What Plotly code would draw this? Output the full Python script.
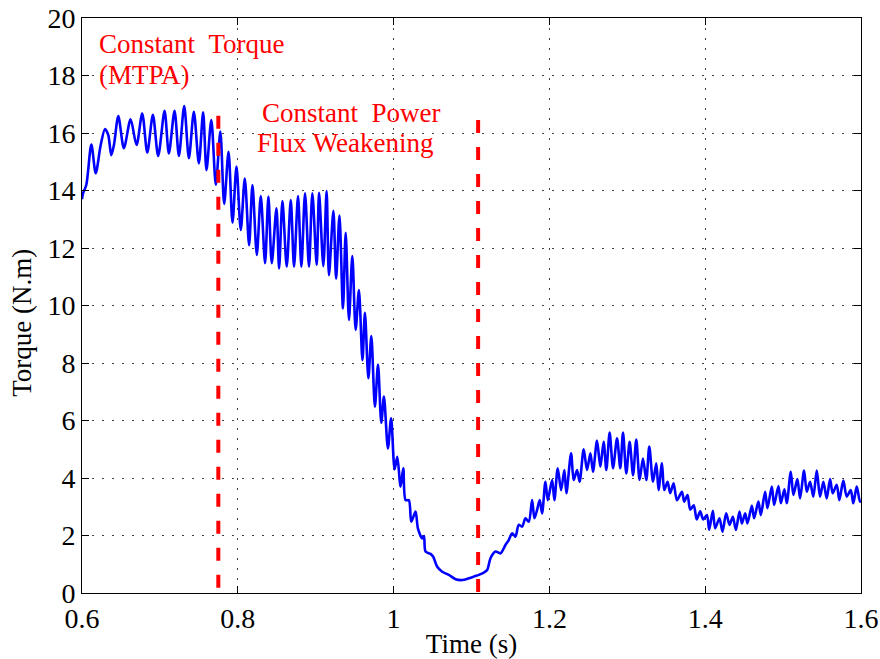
import plotly.graph_objects as go

# Time (s) and torque (N.m) (peaks / troughs)
time_s = [
    0.6000, 0.6013, 0.6055, 0.6120, 0.6176, 0.6240, 0.6295, 0.6337, 0.6376, 0.6410,
    0.6466, 0.6538, 0.6624, 0.6700, 0.6773, 0.6838, 0.6910, 0.6978, 0.7060, 0.7115,
    0.7188, 0.7244, 0.7312, 0.7372, 0.7436, 0.7500, 0.7555, 0.7598, 0.7660, 0.7718,
    0.7776, 0.7825, 0.7881, 0.7932, 0.7983, 0.8038, 0.8090, 0.8145, 0.8188, 0.8244,
    0.8295, 0.8350, 0.8393, 0.8436, 0.8496, 0.8530, 0.8573, 0.8628, 0.8680, 0.8722,
    0.8773, 0.8816, 0.8863, 0.8914, 0.8957, 0.9013, 0.9043, 0.9098, 0.9140, 0.9170,
    0.9227, 0.9262, 0.9305, 0.9350, 0.9385, 0.9427, 0.9470, 0.9513, 0.9555, 0.9600,
    0.9632, 0.9676, 0.9714, 0.9760, 0.9800, 0.9842, 0.9876, 0.9927, 0.9968, 1.0013,
    1.0047, 1.0090, 1.0124, 1.0154, 1.0196, 1.0227, 1.0282, 1.0312, 1.0368, 1.0390,
    1.0410, 1.0474, 1.0509, 1.0560, 1.0624, 1.0709, 1.0795, 1.0881, 1.0965, 1.1029,
    1.1094, 1.1158, 1.1201, 1.1244, 1.1308, 1.1372, 1.1436, 1.1478, 1.1522, 1.1564,
    1.1606, 1.1650, 1.1692, 1.1735, 1.1778, 1.1808, 1.1842, 1.1876, 1.1906, 1.1949,
    1.1979, 1.2035, 1.2064, 1.2107, 1.2150, 1.2192, 1.2218, 1.2278, 1.2312, 1.2355,
    1.2388, 1.2440, 1.2483, 1.2526, 1.2560, 1.2611, 1.2654, 1.2696, 1.2731, 1.2773,
    1.2817, 1.2868, 1.2910, 1.2945, 1.2987, 1.3030, 1.3074, 1.3115, 1.3158, 1.3201,
    1.3244, 1.3282, 1.3330, 1.3372, 1.3401, 1.3445, 1.3474, 1.3517, 1.3551, 1.3594,
    1.3637, 1.3701, 1.3731, 1.3773, 1.3808, 1.3853, 1.3891, 1.3936, 1.3974, 1.4022,
    1.4051, 1.4098, 1.4128, 1.4183, 1.4222, 1.4269, 1.4312, 1.4355, 1.4394, 1.4440,
    1.4471, 1.4513, 1.4542, 1.4599, 1.4628, 1.4683, 1.4714, 1.4769, 1.4799, 1.4855,
    1.4885, 1.4940, 1.4971, 1.5017, 1.5047, 1.5099, 1.5132, 1.5183, 1.5218, 1.5269,
    1.5304, 1.5346, 1.5388, 1.5432, 1.5474, 1.5517, 1.5560, 1.5603, 1.5637, 1.5688,
    1.5722, 1.5773, 1.5817, 1.5868, 1.5901, 1.5945, 1.5987, 1.6000,
]
torque_nm = [
    13.70, 13.90, 14.19, 15.60, 14.60, 15.58, 16.14, 15.93, 15.23, 15.58,
    16.59, 15.47, 16.48, 15.58, 16.68, 15.32, 16.63, 15.20, 16.77, 15.29,
    16.77, 15.20, 16.94, 15.12, 16.74, 14.94, 16.72, 14.71, 16.45, 14.20,
    16.05, 13.53, 15.35, 12.88, 14.83, 12.63, 14.42, 12.10, 14.19, 11.76,
    13.81, 11.47, 13.79, 11.47, 13.38, 11.29, 13.63, 11.35, 13.67, 11.35,
    13.81, 11.35, 13.90, 11.35, 13.90, 11.41, 13.92, 11.37, 13.98, 11.06,
    13.29, 10.93, 13.13, 9.90, 12.53, 9.50, 11.72, 9.15, 10.54, 8.10,
    9.75, 7.47, 8.94, 6.48, 7.95, 5.92, 6.83, 5.03, 6.08, 4.30,
    4.74, 3.70, 4.34, 3.23, 3.23, 2.48, 2.83, 2.25, 1.90, 1.98,
    1.44, 1.36, 1.26, 0.91, 0.74, 0.63, 0.48, 0.45, 0.51, 0.57,
    0.63, 0.71, 0.80, 1.21, 1.44, 1.38, 1.67, 1.84, 2.08, 1.96,
    2.37, 2.31, 2.60, 2.48, 3.23, 2.60, 2.89, 3.23, 2.77, 3.87,
    3.23, 3.93, 3.23, 4.34, 3.58, 4.28, 3.47, 4.86, 3.93, 4.28,
    3.87, 5.00, 4.28, 4.86, 4.22, 5.30, 4.39, 5.26, 4.28, 5.58,
    4.34, 5.38, 4.34, 5.58, 4.16, 5.26, 4.10, 5.34, 3.93, 4.68,
    3.93, 5.09, 3.87, 4.51, 3.58, 4.51, 3.58, 3.87, 3.47, 3.82,
    3.23, 3.52, 3.18, 3.41, 2.90, 3.05, 2.56, 2.84, 2.56, 2.71,
    2.20, 2.86, 2.25, 2.60, 2.13, 2.77, 2.37, 2.65, 2.19, 2.83,
    2.42, 2.77, 2.42, 3.03, 2.60, 3.18, 2.71, 3.52, 2.95, 3.70,
    3.06, 3.72, 3.12, 3.61, 3.12, 4.22, 3.41, 3.96, 3.29, 4.26,
    3.52, 3.87, 3.35, 4.26, 3.35, 3.87, 3.29, 3.96, 3.47, 3.76,
    3.23, 3.91, 3.35, 3.58, 3.12, 3.70, 3.18, 3.20,
]

# Region boundaries (dashed red markers)
boundary_t = [0.775, 1.1085]
boundary_top = [16.6, 16.45]

x_tickvals = [0.6, 0.8, 1.0, 1.2, 1.4, 1.6]
x_ticktext = ["0.6", "0.8", "1", "1.2", "1.4", "1.6"]
y_tickvals = [0, 2, 4, 6, 8, 10, 12, 14, 16, 18, 20]
y_ticktext = [str(v) for v in y_tickvals]

FONT = "Liberation Serif, Times New Roman, serif"

fig = go.Figure()
fig.add_trace(go.Scatter(
    x=time_s, y=torque_nm, mode="lines",
    line=dict(color="#0000ff", width=2.6, shape="spline", smoothing=0.8),
    showlegend=False, hoverinfo="skip",
))
for bt, top in zip(boundary_t, boundary_top):
    fig.add_trace(go.Scatter(
        x=[bt, bt], y=[top, 0], mode="lines",
        line=dict(color="#ff0000", width=4, dash="13px,14px"),
        showlegend=False, hoverinfo="skip",
    ))

red_font = dict(family=FONT, size=27, color="#ff0000")
fig.add_annotation(x=0.6195, y=19.1, xref="x", yref="y", text="Constant\u00a0\u00a0Torque",
                   showarrow=False, xanchor="left", yanchor="middle", font=red_font)
fig.add_annotation(x=0.6195, y=18.02, xref="x", yref="y", text="(MTPA)",
                   showarrow=False, xanchor="left", yanchor="middle", font=red_font)
fig.add_annotation(x=0.8285, y=16.7, xref="x", yref="y", text="Constant\u00a0\u00a0Power",
                   showarrow=False, xanchor="left", yanchor="middle", font=red_font)
fig.add_annotation(x=0.8225, y=15.65, xref="x", yref="y", text="Flux Weakening",
                   showarrow=False, xanchor="left", yanchor="middle", font=red_font)

# y-axis title as a rotated annotation (placed like the reference)
fig.add_annotation(x=0, xref="paper", xshift=-60, y=0.47, yref="paper",
                   text="Torque (N.m)", textangle=-90, showarrow=False,
                   xanchor="center", yanchor="middle",
                   font=dict(family=FONT, size=27, color="black"))

axis_common = dict(
    showline=True, linecolor="black", linewidth=1, mirror="ticks",
    ticks="inside", ticklen=7, tickcolor="black", tickwidth=1,
    showgrid=True, gridcolor="#444444", gridwidth=1, griddash="2px,8px",
    zeroline=False, automargin=False,
    tickfont=dict(family=FONT, size=28, color="black"),
)
fig.update_xaxes(range=[0.6, 1.6], tickvals=x_tickvals, ticktext=x_ticktext,
                 title=dict(text="Time (s)", font=dict(family=FONT, size=27, color="black"), standoff=4),
                 **axis_common)
fig.update_yaxes(range=[0, 20], tickvals=y_tickvals, ticktext=y_ticktext,
                 **axis_common)

fig.update_layout(
    width=880, height=659,
    margin=dict(l=82, r=19, t=18, b=66),
    paper_bgcolor="white", plot_bgcolor="white",
    showlegend=False,
)

fig.write_html(
    "out.html",
    config={"displayModeBar": False, "staticPlot": True},
    post_script="document.body.style.margin='0';document.body.style.overflow='hidden';",
)
